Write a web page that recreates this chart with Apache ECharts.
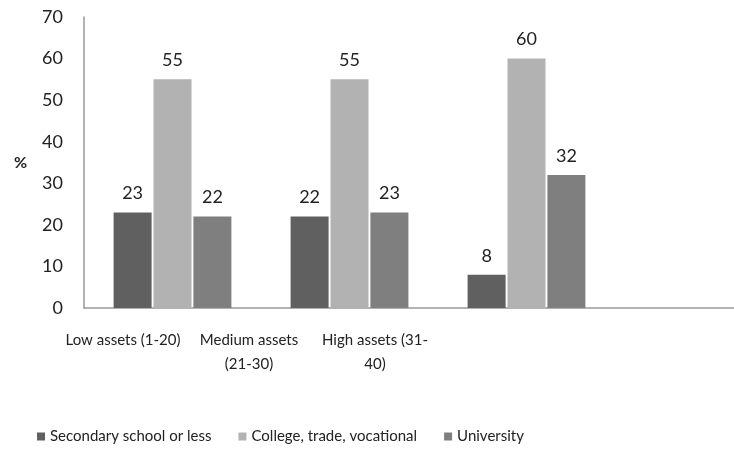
<!DOCTYPE html>
<html>
<head>
<meta charset="utf-8">
<script src="https://cdn.jsdelivr.net/npm/echarts@6/dist/echarts.min.js"></script>
<style>
  html, body { margin: 0; padding: 0; background: #fff; }
  #chart { width: 734px; height: 450px; }
</style>
</head>
<body>
<div id="chart"></div>
<script>
// categories (4th slot is empty, the picture is cut at the right)
const categories = ["Low assets (1-20)", "Medium assets\n(21-30)", "High assets (31-\n40)"];
const seriesNames = ["Secondary school or less", "College, trade, vocational", "University"];
const secondary = [23, 22, 8];
const college = [55, 55, 60];
const university = [22, 23, 32];
const yTicks = [0, 10, 20, 30, 40, 50, 60, 70];

const colors = ["#606060", "#b2b2b2", "#7f7f7f"];
const font = 'Lato, "Noto Sans", sans-serif';

const chart = echarts.init(document.getElementById("chart"));

const makeSeries = (name, values, i) => ({
  name: name,
  type: "bar",
  xAxisIndex: 0,
  yAxisIndex: 0,
  data: values,
  barWidth: 38,
  barGap: "5%",
  itemStyle: { color: colors[i] },
  label: {
    show: true,
    position: "top",
    distance: 10,
    color: "#222",
    fontSize: 18,
    fontFamily: font,
  },
});

const option = {
  backgroundColor: "#fff",
  animation: false,
  textStyle: { fontFamily: font },
  grid: [
    { left: 84, width: 708, top: 17, bottom: 142, outerBoundsMode: "none" },
    // second grid only used to place the category labels
    { left: 60, width: 378, top: 17, bottom: 142, outerBoundsMode: "none" },
  ],
  legend: {
    data: seriesNames,
    left: 37,
    top: 429,
    padding: 0,
    width: 1200,
    itemWidth: 8,
    itemHeight: 8,
    itemGap: 27,
    icon: "rect",
    textStyle: { color: "#222", fontSize: 15, fontFamily: font },
  },
  xAxis: [
    {
      type: "category",
      gridIndex: 0,
      data: categories.concat([""]),
      axisLine: { lineStyle: { color: "#999", width: 1.5 } },
      axisTick: { show: false },
      axisLabel: { show: false },
    },
    {
      type: "category",
      gridIndex: 1,
      data: categories,
      axisLine: { show: false },
      axisTick: { show: false },
      axisLabel: {
        interval: 0,
        margin: 20,
        lineHeight: 24,
        color: "#222",
        fontSize: 15,
        fontFamily: font,
      },
    },
  ],
  yAxis: [
    {
      type: "value",
      gridIndex: 0,
      min: yTicks[0],
      max: yTicks[yTicks.length - 1],
      interval: 10,
      name: "%",
      nameLocation: "middle",
      nameRotate: 0,
      nameGap: 57,
      nameTextStyle: { color: "#222", fontSize: 16, fontWeight: "bold", fontFamily: font },
      axisLine: { show: true, lineStyle: { color: "#999", width: 1.5 } },
      axisTick: { show: false },
      splitLine: { show: false },
      axisLabel: { margin: 21, color: "#222", fontSize: 18, fontFamily: font },
    },
    {
      type: "value",
      gridIndex: 1,
      min: 0,
      max: 70,
      show: false,
    },
  ],
  series: [
    makeSeries(seriesNames[0], secondary, 0),
    makeSeries(seriesNames[1], college, 1),
    makeSeries(seriesNames[2], university, 2),
  ],
};

chart.setOption(option);
</script>
</body>
</html>
